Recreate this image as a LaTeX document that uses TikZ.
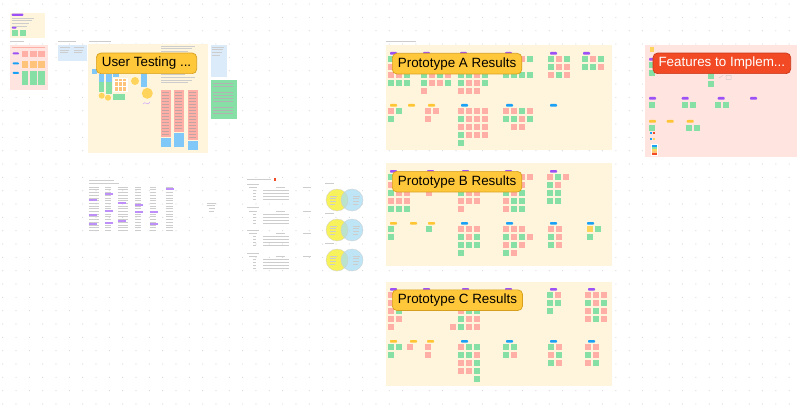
\documentclass[tikz,border=0pt]{standalone}
\usepackage{fontspec}
\setmainfont{Liberation Sans}
\usetikzlibrary{positioning}

\definecolor{cream}{HTML}{FFF5DC}
\definecolor{blush}{HTML}{FFE4E0}
\definecolor{sky}{HTML}{DCEBFA}
\definecolor{noteG}{HTML}{86DFA4}
\definecolor{noteR}{HTML}{FFAFA6}
\definecolor{noteY}{HTML}{FFD45C}
\definecolor{noteO}{HTML}{FFC47A}
\definecolor{noteB}{HTML}{7FC8F8}
\definecolor{tagP}{HTML}{9B51F5}
\definecolor{tagB}{HTML}{1AA0F5}
\definecolor{tagY}{HTML}{FFC532}
\definecolor{labY}{HTML}{FFC83A}
\definecolor{labYd}{HTML}{D6A01E}
\definecolor{labR}{HTML}{F24A24}
\definecolor{labRd}{HTML}{C8381A}
\definecolor{dotc}{HTML}{D8D8D8}
\definecolor{inkc}{HTML}{CDCDCD}
\definecolor{vennY}{HTML}{F7F25C}
\definecolor{vennB}{HTML}{A7DDF3}

\tikzset{
  frametitle/.style={anchor=north west, rounded corners=4.5pt, draw=labYd, fill=labY,
    line width=0.7pt, inner xsep=5.5pt, inner ysep=0pt, minimum height=20.6pt,
    text height=9.8pt, text depth=2.8pt, font=\fontsize{13.4}{15}\selectfont},
  hotitle/.style={frametitle, draw=labRd, fill=labR, text=white},
  noteg/.style={fill=noteG}, noter/.style={fill=noteR},
  notey/.style={fill=noteY}, noteb/.style={fill=noteB}, noteo/.style={fill=none},
  tagp/.style={fill=tagP, rounded corners=0.8pt},
  tagb/.style={fill=tagB, rounded corners=0.8pt},
  tagy/.style={fill=tagY, rounded corners=0.8pt},
  ink/.style={draw=inkc, line width=0.45pt},
  darkink/.style={draw=black!30, line width=0.4pt},
}

% sticky grid: x, y, columns, colours (g r y b, o = empty)
\newcommand{\notes}[4]{%
  \foreach \cl [count=\k from 0] in {#4}{%
    \pgfmathtruncatemacro{\nc}{mod(\k,#3)}%
    \pgfmathtruncatemacro{\nr}{div(\k,#3)}%
    \fill[note\cl] ({#1+8*\nc},{#2+8*\nr}) rectangle ++(6.4,6.4);
  }}
% row of tags: y, style, x list
\newcommand{\tagrow}[3]{%
  \foreach \tx in {#3}{\fill[#2] (\tx,#1) rectangle ++(7,2.6);}}
% faint text lines: x, y, count, width
\newcommand{\scribble}[4]{%
  \foreach \ln in {1,...,#3}{\draw[ink] (#1,{#2+2.6*(\ln-1)}) -- ++({#4*(0.7+0.1*mod(\ln*7,4))},0);}}

\begin{document}
\begin{tikzpicture}[x=1pt,y=-1pt]
\useasboundingbox[fill=white] (0,0) rectangle (800,409);
% dotted canvas
\foreach \i in {0,...,59}
  \foreach \j in {0,...,30}
    \fill[dotc] ({2.7+13.33*\i},{4.1+13.33*\j}) circle (0.6);

% top left boards
\fill[cream] (10,13.3) rectangle (45,38.3);
\fill[tagp] (11.7,13.6) rectangle ++(11.6,2.2);
\scribble{11.7}{18}{4}{22}
\fill[tagp] (11.7,27) rectangle ++(5,1.6);
\notes{11.7}{30}{2}{g,g}

\draw[ink] (10,41.5) -- ++(14,0);
\fill[blush] (10,45) rectangle (47.7,90);
\draw[draw=noteR,line width=0.8pt] (12,47.5) -- ++(33,0);
\fill[tagp] (12.7,52.5) rectangle ++(6.3,2);
\fill[tagb] (12.7,62.5) rectangle ++(6.3,2);
\fill[tagb] (12.7,72) rectangle ++(6.3,2);
\foreach \px in {21.7,30,38.3}{
  \fill[noteR] (\px,50.7) rectangle ++(6.6,6.6);
  \fill[noteO] (\px,61) rectangle ++(6.6,7.3);
  \fill[noteG] (\px,70.7) rectangle ++(6.6,14.3);
}

\draw[ink] (58.3,41.5) -- ++(18,0);
\fill[sky] (58.3,45) rectangle (87.3,60.7);
\scribble{60}{47.5}{3}{10}
\scribble{73.5}{47.5}{3}{10}

% user testing board
\draw[ink] (89,41.5) -- ++(22,0);
\fill[cream] (88.3,44.5) rectangle (208.3,153.3);
\fill[sky] (210.7,45) rectangle (226.7,76.7);
\scribble{212}{47}{4}{12}
\fill[noteG] (210.7,80) rectangle (236.7,119.3);
\foreach \gy in {83,86,92,95,98,101,107,110,113}
  \draw[darkink] (212.5,\gy) -- ++(20,0);

\fill[noteB] (91.7,69) rectangle ++(5,5);
\fill[noteB] (99,74) rectangle ++(5,8);
\fill[noteG] (99,82) rectangle ++(5,10);
\fill[noteB] (106,74) rectangle ++(5.7,8);
\fill[noteG] (106,82) rectangle ++(5.7,12);
\fill[noteY] (101.7,95.7) circle (3);
\fill[noteY] (108,97.7) circle (3);
\fill[noteB] (113,72.7) rectangle ++(6,4.6);
\fill[white] (113,78) rectangle ++(15,14);
\foreach \a in {0,1,2}
  \foreach \b in {0,...,4}
    \fill[noteO] ({115+4*\a},{79.5+2.5*\b}) rectangle ++(2.6,1.6);
\fill[noteG] (113,94) rectangle ++(12,6);
\fill[noteY] (135,81) circle (4);
\fill[noteB] (141,73) rectangle ++(6,14);
\fill[noteY] (147.3,93.3) circle (5.5);
\draw[tagP!50,line width=0.5pt] (143,104) .. controls (145,100) and (148,107) .. (150,102);
\scribble{161}{46}{15}{34}
\fill[noteR] (161,90) rectangle (171,136.7);
\fill[noteB] (161,137.7) rectangle (171,146.7);
\fill[noteR] (174,90) rectangle (184,132);
\fill[noteB] (174,133) rectangle (184,146.7);
\fill[noteR] (187.7,90) rectangle (197.7,140);
\fill[noteB] (187.7,141) rectangle (197.7,150);
\foreach \rx/\rb in {162/134,175/130,188.7/138}
  \foreach \ry in {92,95,...,\rb}
    \draw[draw=noteR!60!black!60,line width=0.35pt] (\rx,\ry) -- ++(7,0);

% word list below
\draw[ink] (89,180) -- ++(25,0);
\draw[ink] (89,183.5) -- ++(30,0);
\foreach \cx in {89,105,118.3,135,150,166}
  \foreach \r in {0,...,16}
    \draw[ink] (\cx,{187+2.7*\r}) -- ++({6+mod(\r*5+\cx,5)},0);
\foreach \hx/\hy in {89/200,89/215,89/224,105/194,105/211,105/223,118.3/203,118.3/221,135/205,135/212,150/212,150/224,166/189}
  \draw[tagP!65,line width=1.2pt] (\hx,\hy) -- ++(8,0);
\scribble{206.7}{203}{2}{9}
\scribble{209}{208.5}{2}{6}

% table of tasks
\draw[ink] (247,179.3) -- ++(24,0);
\fill[labR] (274,178.3) rectangle ++(2.2,2.2);
\foreach \ty in {184,207.5,230,253}{
  \draw[ink] (247,\ty) -- ++(12,0);
  \draw[ink,line width=0.6pt] (249,{\ty+3.3}) -- ++(8,0);
  \draw[ink,line width=0.6pt] (276,{\ty+3.3}) -- ++(9,0);
  \draw[ink,line width=0.6pt] (303,{\ty+3.3}) -- ++(8,0);
  \foreach \rr in {0,...,3}{
    \draw[ink] (253,{\ty+6.5+3*\rr}) -- ++(3,0);
    \draw[ink] (263,{\ty+6.5+3*\rr}) -- ++(26,0);
  }
}

% venn diagrams
\foreach \vy in {200,230,260}{
  \draw[ink] (325,{\vy-17}) -- ++(9,0);
  \fill[vennY] (337,\vy) circle (11);
  \fill[vennB,fill opacity=0.75] (352,\vy) circle (11);
  \draw[inkc,line width=0.3pt] (337,\vy) circle (11) (352,\vy) circle (11);
  \scribble{330}{\vy-4}{4}{7}
  \scribble{353}{\vy-4}{4}{7}
}

% prototype A
\draw[ink] (386,41.5) -- ++(30,0);
\fill[cream] (386,45) rectangle (611.7,150);
\tagrow{52}{tagp}{390,423,460,505,550,583}
\notes{388}{56}{3}{g,r,r,r,g,r,r,r,g,g,g,g}
\notes{421}{56}{4}{g,r,g,g,g,g,r,r,g,r,g,r,g,r,r,g,r,o,o,o}
\notes{458}{56}{4}{r,g,r,g,g,r,g,r,g,g,r,g,g,r,r,g,r,r,r,o}
\notes{503}{56}{4}{r,g,r,g,r,r,o,o,g,g,g,g}
\notes{548}{56}{3}{g,r,g,g,r,r,r,g,r}
\notes{582}{56}{3}{g,r,g,g,g,r}
\tagrow{104}{tagy}{390,408,428}
\tagrow{104}{tagb}{461,506,550}
\notes{388}{108}{2}{r,g,g,o}
\notes{425}{108}{2}{r,r,r,o}
\notes{458}{108}{4}{r,r,r,r,g,r,r,r,r,r,r,r,g,r,r,r,g,o,o,o}
\notes{503}{108}{4}{r,r,g,r,g,g,r,g,o,r,r,o}

% prototype B
\fill[cream] (386,163.3) rectangle (611.7,266);
\tagrow{170}{tagp}{390,427,462,505,550}
\notes{388}{174}{3}{g,r,g,r,g,r,g,r,r,r,r,r,g,g,g}
\notes{426}{174}{2}{r,r,g,r,r,o}
\notes{458}{174}{3}{r,g,r,g,r,g,g,r,r,r,r,r,r,o,o}
\notes{503}{174}{4}{g,r,r,r,r,g,r,o,g,r,g,o,r,g,g,o,r,g,g,o}
\notes{547}{174}{3}{r,g,r,g,r,o,g,g,o,g,g,o}
\tagrow{222}{tagy}{390,410,428}
\tagrow{222}{tagb}{461,506,550,587}
\notes{388}{226}{1}{g,g}
\notes{426}{226}{1}{g}
\notes{458}{226}{3}{r,r,r,g,r,g,g,g,g,g,o,o}
\notes{503}{226}{4}{r,r,r,o,g,r,g,r,r,g,r,o,g,r,o,o}
\notes{548}{226}{2}{r,r,g,r,g,r}
\notes{587}{226}{2}{y,g,g,o}

% prototype C
\fill[cream] (386,281.7) rectangle (611.7,386);
\tagrow{288}{tagp}{390,423,462,505,550,588}
\notes{388}{292}{2}{r,g,r,o,r,g,r,r,r,o}
\notes{421}{292}{2}{g,r,g,o}
\notes{458}{292}{3}{r,r,r,g,r,g,r,g,g,g,r,r,g,r,r}
\fill[noteR] (450,324) rectangle ++(6.4,6.4);
\notes{503}{292}{2}{g,r,g,r}
\notes{547}{292}{2}{g,r,g,g,g,o}
\notes{585}{292}{3}{r,r,r,g,r,g,r,g,r,r,g,r}
\tagrow{340}{tagy}{390,410,427}
\tagrow{340}{tagb}{461,506,550,588}
\notes{388}{344}{2}{g,g,g,o}
\notes{407}{344}{1}{r}
\notes{425}{344}{1}{r,r}
\notes{458}{344}{3}{r,g,g,g,g,r,r,r,g,r,r,g,o,o,g}
\notes{503}{344}{2}{g,g,g,r}
\notes{548}{344}{2}{g,r,r,g,g,r}
\notes{585}{344}{2}{r,r,g,r,r,g}

% features board
\fill[blush] (645,45) rectangle (796.7,156.7);
\fill[noteY] (649.5,47.5) rectangle ++(4.5,4.5);
\tagrow{58}{tagp}{649,681,717,750}
\notes{649}{62}{1}{g,g}
\notes{708}{73}{1}{g,g}
\draw[inkc,line width=0.5pt] (719,78) -- ++(4,-2.5) (726,75.5) rectangle ++(5,4);
\tagrow{97}{tagp}{649,681.7,717.7,750}
\notes{649}{101.7}{1}{g}
\notes{681.7}{101.7}{2}{g,g}
\notes{715}{101.7}{2}{g,g}
\tagrow{120}{tagy}{649,666.7,686.7}
\notes{649}{125}{1}{g}
\notes{686}{125}{2}{g,g}
\fill[tagB] (649.5,132.5) rectangle ++(2,1.5);
\fill[labR] (653,132.5) rectangle ++(2,1.5);
\fill[tagB] (649.5,138.5) rectangle ++(2,1.5);
\fill[noteY] (653,138.5) rectangle ++(2,1.5);
\fill[white] (650.5,144) rectangle (658,156);
\foreach \sc [count=\s from 0] in {tagB,noteG,noteY,noteO,labR}
  \fill[\sc] (651.5,{145+2*\s}) rectangle ++(5.5,2);

% board titles
\node[frametitle] (testlab) at (96,52.7) {User Testing ...};
\node[frametitle] (protalab) at (392,53) {Prototype A Results};
\node[frametitle] (protblab) at (392,171) {Prototype B Results};
\node[frametitle] (protclab) at (392,289.5) {Prototype C Results};
\node[hotitle] (featlab) at (652.7,52.7) {Features to Implem...};
\end{tikzpicture}
\end{document}
